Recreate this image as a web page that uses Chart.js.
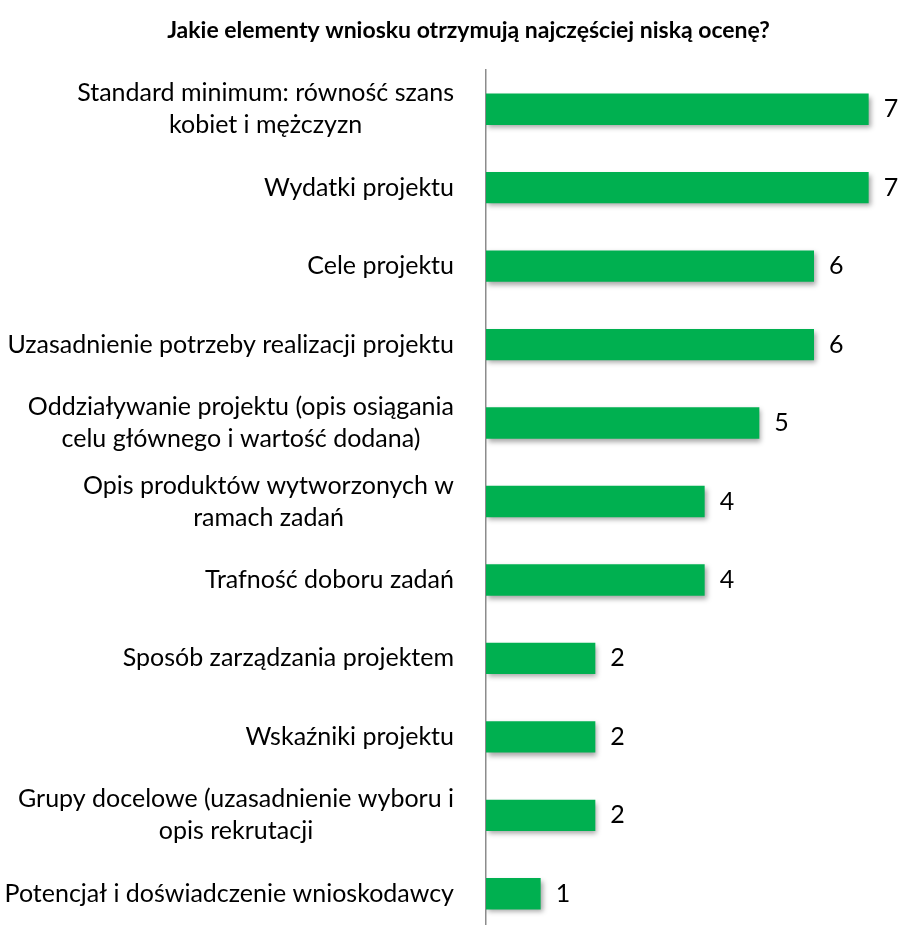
<!DOCTYPE html>
<html lang="pl">
<head>
<meta charset="utf-8">
<script src="https://cdn.jsdelivr.net/npm/chart.js@4"></script>
<style>
  html, body { margin: 0; padding: 0; background: #fff; overflow: hidden; }
  #wrap { position: relative; width: 898px; height: 933px; }
</style>
</head>
<body>
<div id="wrap"><canvas id="chart"></canvas></div>
<script>
// Category labels (each entry = lines of the wrapped label)
const categories = [
  ["Standard minimum: równość szans", "kobiet i mężczyzn"],
  ["Wydatki projektu"],
  ["Cele projektu"],
  ["Uzasadnienie potrzeby realizacji projektu"],
  ["Oddziaływanie projektu (opis osiągania", "celu głównego i wartość dodana)"],
  ["Opis produktów wytworzonych w", "ramach zadań"],
  ["Trafność doboru zadań"],
  ["Sposób zarządzania projektem"],
  ["Wskaźniki projektu"],
  ["Grupy docelowe (uzasadnienie wyboru i", "opis rekrutacji"],
  ["Potencjał i doświadczenie wnioskodawcy"]
];
const counts = [7, 7, 6, 6, 5, 4, 4, 2, 2, 2, 1];
const chartTitle = "Jakie elementy wniosku otrzymują najczęściej niską ocenę?";

const FONT = "Lato, 'Noto Sans', sans-serif";
const LABEL_SIZE = 25;

// Wrapped category labels: block right-aligned, lines centred within the block
const categoryLabels = {
  id: 'categoryLabels',
  afterDraw(chart) {
    const { ctx } = chart;
    const y = chart.scales.y;
    const rightEdge = chart.chartArea.left - 32;
    const lineH = 32;
    ctx.save();
    ctx.font = `${LABEL_SIZE}px ${FONT}`;
    ctx.fillStyle = '#000';
    ctx.textAlign = 'center';
    ctx.textBaseline = 'middle';
    categories.forEach((lines, i) => {
      const cy = y.getPixelForTick(i);
      const w = Math.max(...lines.map(l => ctx.measureText(l).width));
      const cx = rightEdge - w / 2;
      const y0 = cy - (lines.length - 1) * lineH / 2;
      lines.forEach((l, k) => ctx.fillText(l, cx, y0 + k * lineH));
    });
    ctx.restore();
  }
};

// Soft drop shadow under the bars
const barShadow = {
  id: 'barShadow',
  beforeDatasetDraw(chart) {
    const ctx = chart.ctx;
    ctx.save();
    ctx.shadowColor = 'rgba(0,0,0,0.35)';
    ctx.shadowBlur = 5;
    ctx.shadowOffsetX = 2;
    ctx.shadowOffsetY = 3;
  },
  afterDatasetDraw(chart) {
    chart.ctx.restore();
  }
};

// Value labels to the right of each bar
const valueLabels = {
  id: 'valueLabels',
  afterDatasetsDraw(chart) {
    const { ctx } = chart;
    const meta = chart.getDatasetMeta(0);
    ctx.save();
    ctx.font = `${LABEL_SIZE}px ${FONT}`;
    ctx.fillStyle = '#000';
    ctx.textAlign = 'left';
    ctx.textBaseline = 'middle';
    meta.data.forEach((bar, i) => {
      ctx.fillText(String(counts[i]), bar.x + 15, bar.y);
    });
    ctx.restore();
  }
};

new Chart(document.getElementById('chart'), {
  type: 'bar',
  data: {
    labels: categories,
    datasets: [{
      data: counts,
      backgroundColor: '#00B050',
      borderWidth: 0,
      categoryPercentage: 1,
      barPercentage: 0.4
    }]
  },
  options: {
    indexAxis: 'y',
    responsive: true,
    maintainAspectRatio: false,
    animation: false,
    layout: { padding: { left: 41, right: 2, top: 0, bottom: 0 } },
    plugins: {
      legend: { display: false },
      tooltip: { enabled: false },
      title: {
        display: true,
        text: chartTitle,
        color: '#000',
        font: { family: FONT, size: 23, weight: 'bold', lineHeight: 1.2 },
        padding: { top: 17, bottom: 25.4 }
      }
    },
    scales: {
      x: {
        display: false,
        min: 0,
        max: 7.5
      },
      y: {
        grid: { display: false },
        border: { display: true, color: '#8c8c8c', width: 1.5 },
        ticks: { display: false },
        afterFit(scale) { scale.width = 445; }
      }
    }
  },
  plugins: [barShadow, valueLabels, categoryLabels]
});
</script>
</body>
</html>
